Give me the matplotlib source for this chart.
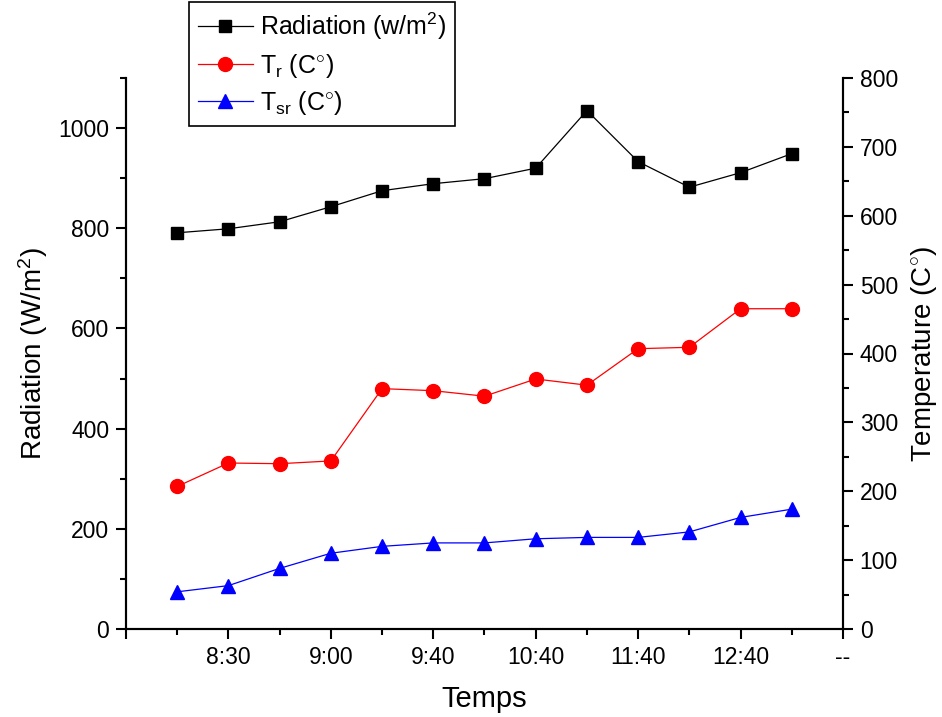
import matplotlib.pyplot as plt
from matplotlib.ticker import MultipleLocator

plt.rcParams['font.family'] = ['Liberation Sans', 'DejaVu Sans']
plt.rcParams['mathtext.fontset'] = 'custom'
plt.rcParams['mathtext.rm'] = 'Liberation Sans'
plt.rcParams['mathtext.it'] = 'Liberation Sans:italic'

# data
positions = [1, 2, 3, 4, 5, 6, 7, 8, 9, 10, 11, 12, 13]
radiation = [791, 799, 813, 843, 875, 889, 899, 920, 1035, 933, 882, 911, 949]
t_r = [207, 241, 240, 244, 349, 346, 338, 363, 354, 407, 409, 465, 465]
t_sr = [54, 63, 88, 110, 120, 125, 125, 131, 133, 133, 141, 162, 174]

tick_pos = [0, 2, 4, 6, 8, 10, 12, 14]
tick_labels = ['', '8:30', '9:00', '9:40', '10:40', '11:40', '12:40', '--']

fig = plt.figure(figsize=(9.42, 7.17), dpi=100)
ax = fig.add_axes([126/942, 1 - 629/717, (843 - 126)/942, (629 - 78)/717])
ax2 = ax.twinx()

l1, = ax.plot(positions, radiation, color='black', marker='s', markersize=9,
              linewidth=0.9, label='Radiation (w/m$^2$)')
l2, = ax2.plot(positions, t_r, color='red', marker='o', markersize=10,
               linewidth=0.9, label='T$_\\mathregular{r}$ (C$^{\\circ}$)')
l3, = ax2.plot(positions, t_sr, color='blue', marker='^', markersize=10,
               linewidth=0.9, label='T$_\\mathregular{sr}$ (C$^{\\circ}$)')

ax.set_xlim(0, 14)
ax.set_ylim(0, 1100)
ax2.set_ylim(0, 800)

ax.set_xticks(tick_pos)
ax.set_xticklabels(tick_labels)
ax.xaxis.set_minor_locator(MultipleLocator(1))
ax.yaxis.set_major_locator(MultipleLocator(200))
ax.yaxis.set_minor_locator(MultipleLocator(100))
ax2.yaxis.set_major_locator(MultipleLocator(100))
ax2.yaxis.set_minor_locator(MultipleLocator(50))

for a in (ax, ax2):
    a.spines['top'].set_visible(False)
    for s in a.spines.values():
        s.set_linewidth(1.5)
    a.tick_params(which='major', direction='out', length=7, width=1.5,
                  labelsize=16.5, pad=5)
    a.tick_params(which='minor', direction='out', length=4, width=1.5)

ax.set_xlabel('Temps', fontsize=21, labelpad=12)
ax.set_ylabel('Radiation (W/m$^2$)', fontsize=20, labelpad=6)
ax2.set_ylabel('Temperature (C$^{\\circ}$)', fontsize=20, labelpad=8)

leg = fig.legend(handles=[l1, l2, l3], loc='upper left',
                 bbox_to_anchor=(189/942, 1 - 2/717), fontsize=18,
                 fancybox=False, edgecolor='black', framealpha=1,
                 handlelength=2.2, borderpad=0.35, labelspacing=0.38,
                 handletextpad=0.3, borderaxespad=0)
leg.get_frame().set_linewidth(1.2)

fig.savefig('out.png', dpi=100)
